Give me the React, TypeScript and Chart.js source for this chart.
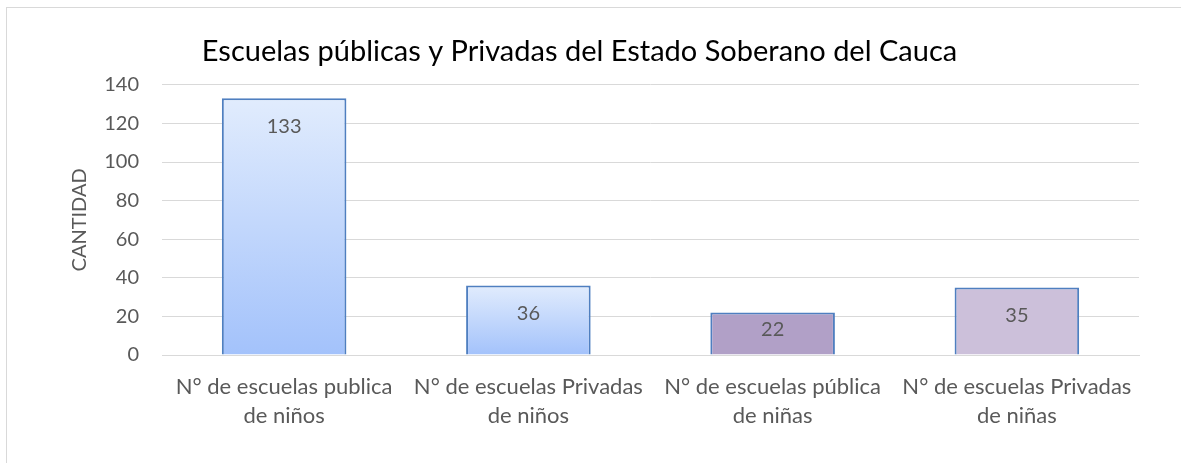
import React, { useEffect, useRef } from "react";
import { Chart, registerables } from "chart.js";

Chart.register(...registerables);

const categories: string[][] = [
  ["N° de escuelas publica", "de niños"],
  ["N° de escuelas Privadas", "de niños"],
  ["N° de escuelas pública", "de niñas"],
  ["N° de escuelas Privadas", "de niñas"],
];
const values: number[] = [133, 36, 22, 35];
const yTicks: number[] = [0, 20, 40, 60, 80, 100, 120, 140];
const titleText = "Escuelas públicas y Privadas del Estado Soberano del Cauca";
const yTitle = "CANTIDAD";

const FONT = "Lato, 'Open Sans', sans-serif";
const GRAY = "#595959";
const GRID = "#D9D9D9";

const frame = {
  id: "frame",
  beforeDraw(chart: any) {
    const c = chart.ctx;
    c.save();
    c.fillStyle = "#ffffff";
    c.fillRect(0, 0, chart.width, chart.height);
    c.strokeStyle = GRID;
    c.lineWidth = 1;
    c.strokeRect(6.5, 7.5, 1400, 800);
    c.restore();
  },
};

const dataLabels = {
  id: "dataLabels",
  afterDatasetsDraw(chart: any) {
    const c = chart.ctx;
    const meta = chart.getDatasetMeta(0);
    c.save();
    c.font = `20px ${FONT}`;
    c.fillStyle = GRAY;
    c.textAlign = "center";
    c.textBaseline = "middle";
    meta.data.forEach((bar: any, i: number) => {
      const h = bar.base - bar.y;
      const off = Math.min(28, h / 2 - 4);
      c.fillText(String(values[i]), bar.x, bar.y + off);
    });
    c.restore();
  },
};

export default function App() {
  const ref = useRef<HTMLCanvasElement>(null);
  useEffect(() => {
    const canvas = ref.current!;
    const chart = new Chart(canvas, {
      type: "bar",
      data: {
        labels: categories,
        datasets: [
          {
            data: values,
            backgroundColor: (ctx: any) => {
              const ch = ctx.chart;
              const i = ctx.dataIndex;
              if (i === 2) return "#B1A0C7";
              if (i === 3) return "#CCC0DA";
              const ys = ch.scales && ch.scales.y;
              if (!ys || !ch.chartArea) return "#C6D9FB";
              const top = ys.getPixelForValue(values[i]);
              const bottom = ys.getPixelForValue(0);
              const g = ch.ctx.createLinearGradient(0, top, 0, bottom);
              g.addColorStop(0, "#E1ECFD");
              g.addColorStop(1, "#A3C2FB");
              return g;
            },
            borderColor: "#4F7FC0",
            borderWidth: 2,
            borderSkipped: "bottom",
            categoryPercentage: 1,
            barPercentage: 0.51,
          },
        ],
      },
      options: {
        responsive: false,
        animation: false,
        layout: { padding: { left: 20, right: 42, top: 7, bottom: 0 } },
        plugins: {
          legend: { display: false },
          tooltip: { enabled: false },
          title: {
            display: true,
            text: titleText,
            color: "#000000",
            font: { family: FONT, size: 29, weight: "normal", lineHeight: 1.2 },
            padding: { top: 27, bottom: 16 },
          },
        },
        scales: {
          x: {
            grid: { display: false, drawTicks: false },
            border: { display: true, color: GRID, width: 1 },
            ticks: {
              color: GRAY,
              font: { family: FONT, size: 22, lineHeight: 1.33 },
              padding: 17,
              maxRotation: 0,
              autoSkip: false,
            },
            afterFit: (s: any) => {
              s.height = 108;
            },
          },
          y: {
            min: 0,
            max: 140,
            afterBuildTicks: (s: any) => {
              s.ticks = yTicks.map((v) => ({ value: v }));
            },
            grid: { color: GRID, lineWidth: 1, drawTicks: false },
            border: { display: false },
            ticks: {
              color: GRAY,
              font: { family: FONT, size: 20 },
              padding: 23,
            },
            title: {
              display: true,
              text: yTitle,
              color: GRAY,
              font: { family: FONT, size: 20 },
              padding: { top: 48, bottom: 0 },
            },
            afterFit: (s: any) => {
              s.width = 142;
            },
          },
        },
      },
      plugins: [frame, dataLabels],
    });
    return () => chart.destroy();
  }, []);
  return (
    <div style={{ position: "absolute", left: 0, top: 0, width: 1181, height: 463 }}>
      <canvas ref={ref} width={1181} height={463} style={{ display: "block" }} />
    </div>
  );
}
